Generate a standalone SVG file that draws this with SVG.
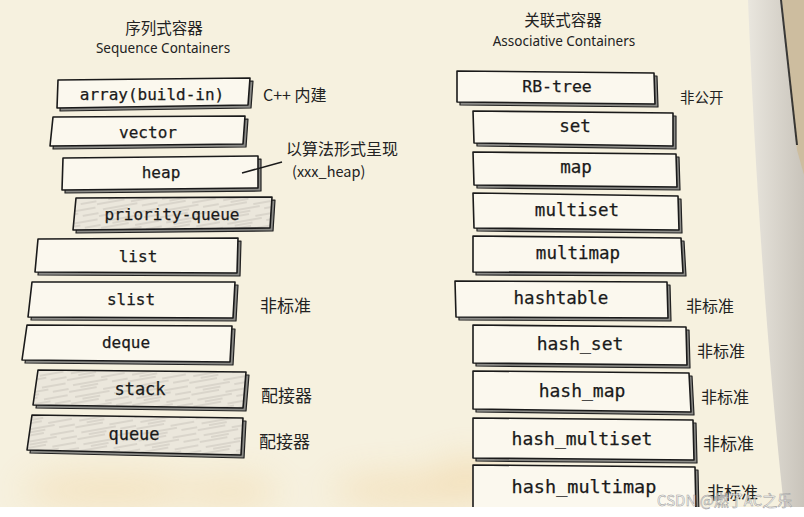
<svg xmlns="http://www.w3.org/2000/svg" width="804" height="517" viewBox="0 0 804 517">
<style>
.box{fill:#fbf8ee;stroke:#1a1a1a;stroke-width:1.6;stroke-linejoin:round}
.hat{fill:url(#hatch);stroke:#1a1a1a;stroke-width:1.6;stroke-linejoin:round}
.sh{fill:#8a8a86;stroke:#222;stroke-width:1.2;stroke-linejoin:round}
.lt{font-family:"DejaVu Sans Mono","Liberation Mono",monospace;font-size:16px;fill:#1a1a1a;stroke:#1a1a1a;stroke-width:0.25;text-anchor:middle}
.rt{font-family:"DejaVu Sans Mono","Liberation Mono",monospace;font-size:17.5px;fill:#1a1a1a;stroke:#1a1a1a;stroke-width:0.25;text-anchor:middle}
.cn{font-family:"Noto Sans CJK SC","Noto Sans",sans-serif;font-size:16px;fill:#222}
.ti{font-family:"Noto Sans CJK SC","Noto Sans",sans-serif;font-size:15.5px;fill:#222;text-anchor:middle}
.en{font-family:"Noto Sans","Open Sans",sans-serif;font-size:13.5px;fill:#222;text-anchor:middle}
</style>
<defs>
<pattern id="hatch" patternUnits="userSpaceOnUse" width="60" height="12" patternTransform="rotate(-10)">
<rect width="60" height="12" fill="#ebe7dc"/>
<path d="M0,2 L28,2 M34,5 L58,5 M5,8 L40,8 M44,11 L60,11 M12,11 L30,11" stroke="#b9b4aa" stroke-width="0.7" fill="none"/>
</pattern>
<linearGradient id="edge" x1="0" y1="0" x2="1" y2="0">
<stop offset="0" stop-color="#e9e6de"/>
<stop offset="1" stop-color="#c9c4bb"/>
</linearGradient>
<filter id="blur" x="-50%" y="-100%" width="200%" height="300%"><feGaussianBlur stdDeviation="18"/></filter>
</defs>

<rect width="804" height="517" fill="#f6f1df"/>
<g filter="url(#blur)" fill="#f0c98a" opacity="0.45">
<ellipse cx="110" cy="490" rx="90" ry="14"/>
<ellipse cx="230" cy="492" rx="50" ry="12"/>
<ellipse cx="410" cy="490" rx="80" ry="14"/>
<ellipse cx="470" cy="480" rx="40" ry="20"/>
</g>
<path d="M748,0 C756,200 770,380 784,507 L804,507 L804,0 Z" fill="url(#edge)"/>
<path d="M782,0 L804,0 L804,175 L797,150 Z" fill="#cdbd9f"/>
<path d="M781,0 L797,145" stroke="#1e1e1e" stroke-width="2" opacity="0.85"/>

<text class="ti" x="164" y="34">序列式容器</text>
<text class="en" x="163" y="53">Sequence Containers</text>
<text class="ti" x="563" y="26">关联式容器</text>
<text class="en" x="564" y="46">Associative Containers</text>

<g id="n-array"><polygon class="sh" transform="translate(3,3)" points="58,80 250,78 248,105 57,108"/><polygon class="box" points="58,80 250,78 248,105 57,108"/><text class="lt" x="152" y="100">array(build-in)</text></g>
<g id="n-vector"><polygon class="sh" transform="translate(3,3)" points="53,117 245,116 243,144 50,146"/><polygon class="box" points="53,117 245,116 243,144 50,146"/><text class="lt" x="148" y="138">vector</text></g>
<g id="n-heap"><polygon class="sh" transform="translate(3,3)" points="63,158 258,156 258,188 62,190"/><polygon class="box" points="63,158 258,156 258,188 62,190"/><text class="lt" x="161" y="178">heap</text></g>
<g id="n-priority-queue"><polygon class="sh" transform="translate(3,3)" points="76,198 272,197 270,228 73,230"/><polygon class="hat" points="76,198 272,197 270,228 73,230"/><text class="lt" x="172" y="220">priority-queue</text></g>
<g id="n-list"><polygon class="sh" transform="translate(3,3)" points="38,239 238,238 237,273 35,272"/><polygon class="box" points="38,239 238,238 237,273 35,272"/><text class="lt" x="138" y="262">list</text></g>
<g id="n-slist"><polygon class="sh" transform="translate(3,3)" points="32,282 235,282 233,318 28,317"/><polygon class="box" points="32,282 235,282 233,318 28,317"/><text class="lt" x="131" y="305">slist</text></g>
<g id="n-deque"><polygon class="sh" transform="translate(3,3)" points="27,325 232,326 230,362 22,360"/><polygon class="box" points="27,325 232,326 230,362 22,360"/><text class="lt" x="126" y="348">deque</text></g>
<g id="n-stack"><polygon class="sh" transform="translate(3,3)" points="38,370 246,372 243,408 33,405"/><polygon class="hat" points="38,370 246,372 243,408 33,405"/><text class="lt" x="140" y="395" style="font-size:17px">stack</text></g>
<g id="n-queue"><polygon class="sh" transform="translate(3,3)" points="32,415 243,418 241,455 27,450"/><polygon class="hat" points="32,415 243,418 241,455 27,450"/><text class="lt" x="134" y="440" style="font-size:17px">queue</text></g>

<g id="n-rbtree"><polygon class="sh" transform="translate(3,3)" points="457,71 654,73 655,104 457,102"/><polygon class="box" points="457,71 654,73 655,104 457,102"/><text class="rt" x="557" y="92" style="font-size:16.5px">RB-tree</text></g>
<g id="n-set"><polygon class="sh" transform="translate(3,3)" points="473,111 673,113 673,146 474,143"/><polygon class="box" points="473,111 673,113 673,146 474,143"/><text class="rt" x="575" y="132">set</text></g>
<g id="n-map"><polygon class="sh" transform="translate(3,3)" points="473,152 676,154 677,187 474,185"/><polygon class="box" points="473,152 676,154 677,187 474,185"/><text class="rt" x="576" y="173">map</text></g>
<g id="n-multiset"><polygon class="sh" transform="translate(3,3)" points="473,193 678,196 679,230 474,228"/><polygon class="box" points="473,193 678,196 679,230 474,228"/><text class="rt" x="577" y="216">multiset</text></g>
<g id="n-multimap"><polygon class="sh" transform="translate(3,3)" points="473,236 681,238 683,273 473,272"/><polygon class="box" points="473,236 681,238 683,273 473,272"/><text class="rt" x="578" y="259">multimap</text></g>
<g id="n-hashtable"><polygon class="sh" transform="translate(3,3)" points="455,281 667,282 668,318 456,317"/><polygon class="box" points="455,281 667,282 668,318 456,317"/><text class="rt" x="561" y="304">hashtable</text></g>
<g id="n-hash-set"><polygon class="sh" transform="translate(3,3)" points="473,325 686,327 687,365 473,363"/><polygon class="box" points="473,325 686,327 687,365 473,363"/><text class="rt" x="580" y="350" style="font-size:18px">hash_set</text></g>
<g id="n-hash-map"><polygon class="sh" transform="translate(3,3)" points="473,371 689,373 691,412 473,409"/><polygon class="box" points="473,371 689,373 691,412 473,409"/><text class="rt" x="582" y="397" style="font-size:18px">hash_map</text></g>
<g id="n-hash-multiset"><polygon class="sh" transform="translate(3,3)" points="473,418 693,420 694,460 473,458"/><polygon class="box" points="473,418 693,420 694,460 473,458"/><text class="rt" x="582" y="445" style="font-size:18px">hash_multiset</text></g>
<g id="n-hash-multimap"><polygon class="sh" transform="translate(3,3)" points="473,465 695,467 696,512 473,512"/><polygon class="box" points="473,465 695,467 696,512 473,512"/><text class="rt" x="584" y="493" style="font-size:18.5px">hash_multimap</text></g>

<g id="labels">
<text class="cn" x="263" y="101">C++ 内建</text>
<text class="cn" x="286" y="155">以算法形式呈现</text>
<text class="cn" x="292" y="177" style="font-size:14.5px">(xxx_heap)</text>
<text class="cn" x="260" y="312" style="font-size:17px">非标准</text>
<text class="cn" x="261" y="402" style="font-size:17px">配接器</text>
<text class="cn" x="259" y="448" style="font-size:17px">配接器</text>
<text class="cn" x="680" y="103" style="font-size:14.5px">非公开</text>
<text class="cn" x="686" y="312">非标准</text>
<text class="cn" x="697" y="357">非标准</text>
<text class="cn" x="701" y="403">非标准</text>
<text class="cn" x="703" y="450" style="font-size:17px">非标准</text>
<text class="cn" x="707" y="499" style="font-size:17px">非标准</text>
</g>

<g id="connectors">
<path d="M242,173 L282,162" stroke="#1a1a1a" stroke-width="1.5" fill="none"/>
</g>

<rect x="0" y="507" width="804" height="10" fill="#ffffff"/>
<text x="657" y="506" font-family="Noto Sans CJK SC,Noto Sans,sans-serif" font-size="15" fill="#ffffff" fill-opacity="0.7" stroke="#9a9a9a" stroke-width="0.5">CSDN @燃了AC之乐</text>
</svg>
